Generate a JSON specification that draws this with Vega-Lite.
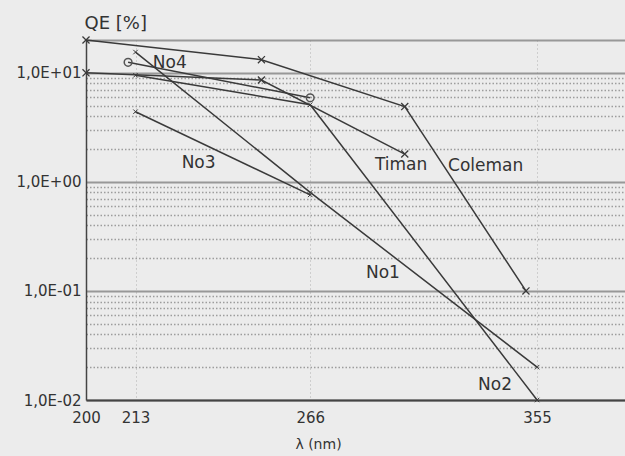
{
  "$schema": "https://vega.github.io/schema/vega-lite/v6.json",
  "width": 539,
  "height": 360,
  "autosize": {"type": "none"},
  "padding": {"left": 86, "top": 40, "right": 0, "bottom": 56},
  "background": "#ececec",
  "config": {
    "view": {"stroke": null},
    "font": "DejaVu Sans",
    "axis": {"labelColor": "#333", "titleColor": "#333", "labelFont": "DejaVu Sans", "titleFont": "DejaVu Sans", "titleFontWeight": "normal"}
  },
  "datasets": {
    "curves": [
      {"series": "Coleman", "lambda": 200, "qe": 20},
      {"series": "Coleman", "lambda": 250, "qe": 13.2},
      {"series": "Coleman", "lambda": 300, "qe": 4.9},
      {"series": "Coleman", "lambda": 350, "qe": 0.1},
      {"series": "Timan", "lambda": 200, "qe": 10},
      {"series": "Timan", "lambda": 250, "qe": 8.6},
      {"series": "Timan", "lambda": 300, "qe": 1.8},
      {"series": "No4", "lambda": 211, "qe": 12.5},
      {"series": "No4", "lambda": 266, "qe": 5.9},
      {"series": "No1", "lambda": 213, "qe": 15.5},
      {"series": "No1", "lambda": 266, "qe": 0.8},
      {"series": "No1", "lambda": 355, "qe": 0.02},
      {"series": "No2", "lambda": 213, "qe": 9.5},
      {"series": "No2", "lambda": 266, "qe": 5.1},
      {"series": "No2", "lambda": 355, "qe": 0.01},
      {"series": "No3", "lambda": 213, "qe": 4.4},
      {"series": "No3", "lambda": 266, "qe": 0.76}
    ],
    "labels": [
      {"text": "No4", "lambda": 222.5, "qe": 12.4},
      {"text": "No3", "lambda": 230.8, "qe": 1.49},
      {"text": "Timan", "lambda": 298.6, "qe": 1.43},
      {"text": "Coleman", "lambda": 332.5, "qe": 1.4},
      {"text": "No1", "lambda": 291.8, "qe": 0.146},
      {"text": "No2", "lambda": 336.5, "qe": 0.0137}
    ]
  },
  "encoding": {
    "x": {
      "field": "lambda",
      "type": "quantitative",
      "scale": {"type": "log", "domain": [200, 397]},
      "axis": {
        "values": [200, 213, 266, 355],
        "format": "d",
        "title": "λ (nm)",
        "titleFontSize": 14,
        "titleX": 232,
        "titleY": 37,
        "titleBaseline": "top",
        "titleAnchor": null,
        "titleAlign": "center",
        "labelFontSize": 15,
        "labelPadding": 10,
        "labelFlush": false,
        "labelOverlap": false,
        "ticks": false,
        "domainColor": "#444",
        "domainWidth": 2,
        "grid": true,
        "gridColor": "#999",
        "gridDash": [1, 3],
        "gridWidth": 1,
        "gridOpacity": 0.7
      }
    },
    "y": {
      "field": "qe",
      "type": "quantitative",
      "scale": {"type": "log", "domain": [0.01, 20]},
      "axis": {
        "values": [0.01, 0.02, 0.03, 0.04, 0.05, 0.06, 0.07, 0.08, 0.09, 0.1, 0.2, 0.3, 0.4, 0.5, 0.6, 0.7, 0.8, 0.9, 1, 2, 3, 4, 5, 6, 7, 8, 9, 10, 20],
        "labelExpr": "datum.value == 10 ? '1,0E+01' : datum.value == 1 ? '1,0E+00' : datum.value == 0.1 ? '1,0E-01' : datum.value == 0.01 ? '1,0E-02' : ''",
        "labelFontSize": 15,
        "labelPadding": 5,
        "labelOverlap": false,
        "ticks": false,
        "domainColor": "#444",
        "domainWidth": 1.5,
        "title": "QE [%]",
        "titleAngle": 0,
        "titleAlign": "left",
        "titleBaseline": "middle",
        "titleFontSize": 18,
        "titleX": -2,
        "titleY": -17,
        "grid": true,
        "gridColor": {"condition": {"test": "datum.value == 0.01 || datum.value == 0.1 || datum.value == 1 || datum.value == 10 || datum.value == 20", "value": "#8a8a8a"}, "value": "#8f8f8f"},
        "gridWidth": {"condition": {"test": "datum.value == 0.01 || datum.value == 0.1 || datum.value == 1 || datum.value == 10 || datum.value == 20", "value": 2.2}, "value": 1.3},
        "gridDash": {"condition": {"test": "datum.value == 0.01 || datum.value == 0.1 || datum.value == 1 || datum.value == 10 || datum.value == 20", "value": []}, "value": [1.5, 2]},
        "gridOpacity": 0.85
      }
    }
  },
  "layer": [
    {
      "data": {"name": "curves"},
      "mark": {"type": "line", "color": "#3a3a3a", "strokeWidth": 1.5},
      "encoding": {"detail": {"field": "series"}}
    },
    {
      "data": {"name": "curves"},
      "transform": [{"filter": "datum.series == 'Coleman' || datum.series == 'Timan'"}],
      "mark": {"type": "point", "shape": "M-1,-1L1,1M-1,1L1,-1", "filled": false, "color": "#3a3a3a", "strokeWidth": 1.3, "size": 50, "opacity": 1}
    },
    {
      "data": {"name": "curves"},
      "transform": [{"filter": "datum.series == 'No1' || datum.series == 'No2' || datum.series == 'No3'"}],
      "mark": {"type": "point", "shape": "M-1,-1L1,1M-1,1L1,-1", "filled": false, "color": "#3a3a3a", "strokeWidth": 1, "size": 20, "opacity": 1}
    },
    {
      "data": {"name": "curves"},
      "transform": [{"filter": "datum.series == 'No4'"}],
      "mark": {"type": "point", "shape": "circle", "filled": false, "color": "#555", "strokeWidth": 1.5, "size": 60, "opacity": 1}
    },
    {
      "data": {"name": "labels"},
      "mark": {"type": "text", "font": "DejaVu Sans", "fontSize": 17, "color": "#333", "align": "center", "baseline": "middle"},
      "encoding": {"text": {"field": "text"}}
    }
  ]
}
